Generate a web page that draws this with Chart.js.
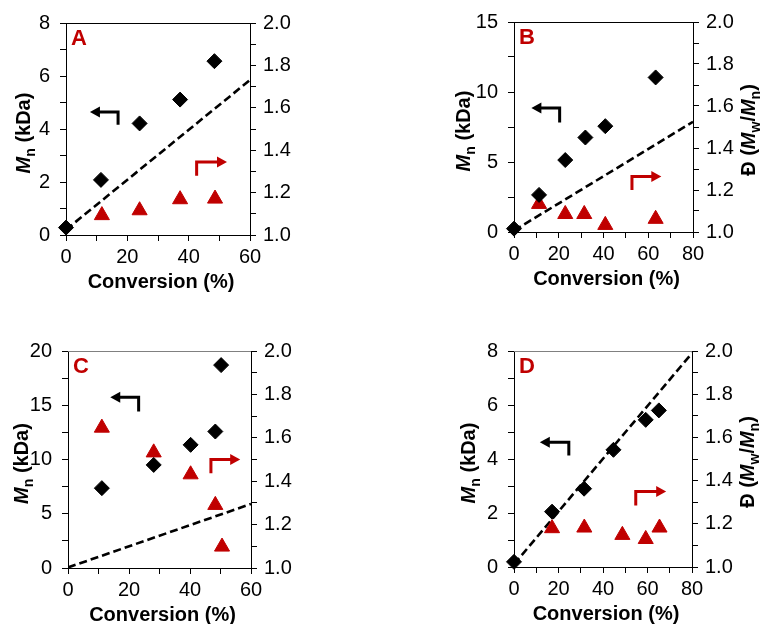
<!DOCTYPE html>
<html>
<head>
<meta charset="utf-8">
<title>Mn and dispersity vs conversion</title>
<script src="https://cdn.jsdelivr.net/npm/chart.js"></script>
<style>
  body { margin: 0; background: #fff; }
  .panel { position: absolute; }
</style>
</head>
<body>
<div class="panel" style="left:0;top:0"><canvas id="chartA" width="380" height="310"></canvas></div>
<div class="panel" style="left:380px;top:0"><canvas id="chartB" width="381" height="310"></canvas></div>
<div class="panel" style="left:0;top:310px"><canvas id="chartC" width="380" height="314"></canvas></div>
<div class="panel" style="left:380px;top:310px"><canvas id="chartD" width="381" height="314"></canvas></div>
<script>
// Panel A
const convMnA = [0, 11.4, 24.0, 37.2, 48.4];
const mnA = [0.28, 2.08, 4.21, 5.11, 6.56];
const convDispA = [11.7, 24.0, 37.2, 48.6];
const dispA = [1.093, 1.116, 1.168, 1.171];
const theoryConvA = [0, 60];
const theoryMnA = [0.2, 5.85];

// Panel B
const convMnB = [0, 11.2, 22.9, 31.9, 40.8, 63.3];
const mnB = [0.24, 2.65, 5.14, 6.75, 7.56, 11.04];
const convDispB = [11.2, 22.9, 31.4, 40.8, 63.3];
const dispB = [1.133, 1.085, 1.085, 1.033, 1.062];
const theoryConvB = [0, 80];
const theoryMnB = [0.1, 7.87];

// Panel C
const convMnC = [11.1, 28.1, 40.2, 48.3, 50.2];
const mnC = [7.36, 9.5, 11.35, 12.58, 18.7];
const convDispC = [11.1, 28.1, 40.2, 48.3, 50.5];
const dispC = [1.646, 1.532, 1.431, 1.29, 1.098];
const theoryConvC = [0, 60];
const theoryMnC = [0.05, 5.9];

// Panel D
const convMnD = [0, 17.1, 31.5, 44.7, 59.2, 65.1];
const mnD = [0.19, 2.05, 2.9, 4.34, 5.45, 5.8];
const convDispD = [17.1, 31.6, 48.7, 59.2, 65.4];
const dispD = [1.179, 1.182, 1.148, 1.129, 1.182];
const theoryConvD = [0, 80];
const theoryMnD = [0.1, 7.92];

const RED = "#C00000";
const FONT = "'Liberation Sans', Arial, sans-serif";

function toPoints(xs, ys) {
  return xs.map((x, i) => ({ x: x, y: ys[i] }));
}

function richFont(part) {
  const size = part.sub ? 14 : 20;
  return (part.italic ? "italic " : "") + "bold " + size + "px " + FONT;
}

function drawRich(ctx, parts, cx, cy) {
  ctx.save();
  ctx.translate(cx, cy);
  ctx.rotate(-Math.PI / 2);
  let total = 0;
  parts.forEach((p) => {
    ctx.font = richFont(p);
    p.w = ctx.measureText(p.t).width;
    total += p.w;
  });
  let x = -total / 2;
  ctx.fillStyle = "#000";
  ctx.textBaseline = "alphabetic";
  parts.forEach((p) => {
    ctx.font = richFont(p);
    ctx.fillText(p.t, x, p.sub ? 5 : 0);
    x += p.w;
  });
  ctx.restore();
}

function arrowHead(ctx, tipX, y, dir) {
  ctx.beginPath();
  ctx.moveTo(tipX, y);
  ctx.lineTo(tipX - dir * 10, y - 5.5);
  ctx.lineTo(tipX - dir * 10, y + 5.5);
  ctx.closePath();
  ctx.fill();
}

const panelDecor = {
  id: "panelDecor",
  afterDraw(chart, args, opts) {
    const ctx = chart.ctx;
    const a = chart.chartArea;
    const w = a.right - a.left;
    const h = a.bottom - a.top;
    const px = (f) => a.left + f * w;
    const py = (f) => a.top + f * h;

    ctx.save();
    // top frame line
    ctx.strokeStyle = opts.topColor;
    ctx.lineWidth = 1;
    ctx.beginPath();
    ctx.moveTo(a.left, a.top + 0.5);
    ctx.lineTo(a.right, a.top + 0.5);
    ctx.stroke();

    // panel letter
    ctx.fillStyle = RED;
    ctx.font = "bold 22px " + FONT;
    ctx.textBaseline = "alphabetic";
    ctx.fillText(opts.letter, a.left + 5, a.top + 22);

    // black arrow: points left to the Mn axis
    const b = opts.leftArrow;
    ctx.strokeStyle = "#000";
    ctx.fillStyle = "#000";
    ctx.lineWidth = 3;
    ctx.beginPath();
    ctx.moveTo(px(b.tip) + 8, py(b.y));
    ctx.lineTo(px(b.end), py(b.y));
    ctx.lineTo(px(b.end), py(b.stub));
    ctx.stroke();
    arrowHead(ctx, px(b.tip), py(b.y), -1);

    // red arrow: points right to the dispersity axis
    const r = opts.rightArrow;
    ctx.strokeStyle = RED;
    ctx.fillStyle = RED;
    ctx.beginPath();
    ctx.moveTo(px(r.x), py(r.bottom));
    ctx.lineTo(px(r.x), py(r.top));
    ctx.lineTo(px(r.tip) - 8, py(r.top));
    ctx.stroke();
    arrowHead(ctx, px(r.tip), py(r.top), 1);

    // axis titles
    ctx.fillStyle = "#000";
    ctx.font = "bold 20px " + FONT;
    ctx.textAlign = "center";
    ctx.fillText("Conversion (%)", (a.left + a.right) / 2 + 3, a.bottom + 53);
    ctx.textAlign = "left";
    drawRich(ctx, [
      { t: "M", italic: true },
      { t: "n", sub: true },
      { t: " (kDa)" },
    ], a.left - opts.leftTitleGap, (a.top + a.bottom) / 2 + 4);
    if (opts.rightTitle) {
      drawRich(ctx, [
        { t: "\u0110 (" },
        { t: "M", italic: true },
        { t: "w", sub: true },
        { t: "/" },
        { t: "M", italic: true },
        { t: "n", sub: true },
        { t: ")" },
      ], a.right + 62, (a.top + a.bottom) / 2 + 3);
    }
    ctx.restore();
  },
};

function makeChart(id, cfg) {
  const canvas = document.getElementById(id);
  const W = canvas.width;
  const H = canvas.height;
  const tickFont = { family: FONT, size: 20 };
  const axisGrid = {
    drawOnChartArea: false,
    drawTicks: true,
    tickLength: 6,
    color: "#000",
  };
  const axisBorder = { display: true, color: "#000", width: 1 };

  new Chart(canvas.getContext("2d"), {
    type: "scatter",
    data: {
      datasets: [
        {
          label: "Mn",
          data: toPoints(cfg.convMn, cfg.mn),
          yAxisID: "y",
          pointStyle: "rectRot",
          pointRadius: 7.5,
          backgroundColor: "#000",
          borderColor: "#000",
          borderWidth: 1,
          clip: false,
        },
        {
          label: "Dispersity",
          data: toPoints(cfg.convDisp, cfg.disp),
          yAxisID: "y1",
          pointStyle: "triangle",
          pointRadius: 8.7,
          backgroundColor: RED,
          borderColor: RED,
          borderWidth: 1,
          clip: false,
        },
        {
          label: "Theoretical Mn",
          data: toPoints(cfg.theoryConv, cfg.theoryMn),
          yAxisID: "y",
          showLine: true,
          pointRadius: 0,
          borderColor: "#000",
          borderWidth: 2.6,
          borderDash: [8, 4],
        },
      ],
    },
    options: {
      responsive: false,
      animation: false,
      layout: { padding: { top: cfg.area.top, left: 0, right: 0, bottom: 0 } },
      plugins: {
        legend: { display: false },
        tooltip: { enabled: false },
        panelDecor: cfg.decor,
      },
      scales: {
        x: {
          type: "linear",
          min: 0,
          max: cfg.xMax,
          grid: axisGrid,
          border: axisBorder,
          ticks: {
            stepSize: 10,
            autoSkip: false,
            maxRotation: 0,
            padding: 4,
            color: "#000",
            font: tickFont,
            callback: (v) => (v % 20 === 0 ? v : ""),
          },
          afterFit: (s) => { s.height = H - cfg.area.bottom; },
        },
        y: {
          type: "linear",
          position: "left",
          min: 0,
          max: cfg.yMax,
          grid: axisGrid,
          border: axisBorder,
          ticks: {
            stepSize: cfg.yMinor,
            autoSkip: false,
            padding: 10,
            color: "#000",
            font: tickFont,
            callback: (v) => (Math.abs(v / cfg.yMajor - Math.round(v / cfg.yMajor)) < 1e-6 ? v : ""),
          },
          afterFit: (s) => { s.width = cfg.area.left; },
        },
        y1: {
          type: "linear",
          position: "right",
          min: 1.0,
          max: 2.0,
          grid: axisGrid,
          border: axisBorder,
          ticks: {
            stepSize: 0.1,
            autoSkip: false,
            padding: 7,
            color: "#000",
            font: tickFont,
            callback: (v) => (Math.round(v * 10) % 2 === 0 ? v.toFixed(1) : ""),
          },
          afterFit: (s) => { s.width = W - cfg.area.right; },
        },
      },
    },
    plugins: [panelDecor],
  });
}

makeChart("chartA", {
  convMn: convMnA, mn: mnA, convDisp: convDispA, disp: dispA,
  theoryConv: theoryConvA, theoryMn: theoryMnA,
  xMax: 60, yMax: 8, yMinor: 1, yMajor: 2,
  area: { left: 66, right: 250, top: 23, bottom: 235 },
  decor: {
    letter: "A", topColor: "#000", leftTitleGap: 36, rightTitle: false,
    leftArrow: { tip: 0.13, end: 0.283, y: 0.42, stub: 0.48 },
    rightArrow: { x: 0.71, top: 0.656, bottom: 0.72, tip: 0.875 },
  },
});

makeChart("chartB", {
  convMn: convMnB, mn: mnB, convDisp: convDispB, disp: dispB,
  theoryConv: theoryConvB, theoryMn: theoryMnB,
  xMax: 80, yMax: 15, yMinor: 2.5, yMajor: 5,
  area: { left: 134, right: 313, top: 21, bottom: 232 },
  decor: {
    letter: "B", topColor: "#000", leftTitleGap: 44, rightTitle: true,
    leftArrow: { tip: 0.097, end: 0.255, y: 0.41, stub: 0.479 },
    rightArrow: { x: 0.659, top: 0.736, bottom: 0.8, tip: 0.823 },
  },
});

makeChart("chartC", {
  convMn: convMnC, mn: mnC, convDisp: convDispC, disp: dispC,
  theoryConv: theoryConvC, theoryMn: theoryMnC,
  xMax: 60, yMax: 20, yMinor: 2.5, yMajor: 5,
  area: { left: 68, right: 251, top: 41, bottom: 258 },
  decor: {
    letter: "C", topColor: "#808080", leftTitleGap: 40, rightTitle: false,
    leftArrow: { tip: 0.231, end: 0.386, y: 0.213, stub: 0.279 },
    rightArrow: { x: 0.781, top: 0.5, bottom: 0.563, tip: 0.941 },
  },
});

makeChart("chartD", {
  convMn: convMnD, mn: mnD, convDisp: convDispD, disp: dispD,
  theoryConv: theoryConvD, theoryMn: theoryMnD,
  xMax: 80, yMax: 8, yMinor: 1, yMajor: 2,
  area: { left: 134, right: 312, top: 41, bottom: 257 },
  decor: {
    letter: "D", topColor: "#808080", leftTitleGap: 39, rightTitle: true,
    leftArrow: { tip: 0.145, end: 0.308, y: 0.422, stub: 0.484 },
    rightArrow: { x: 0.684, top: 0.65, bottom: 0.715, tip: 0.855 },
  },
});
</script>
</body>
</html>
